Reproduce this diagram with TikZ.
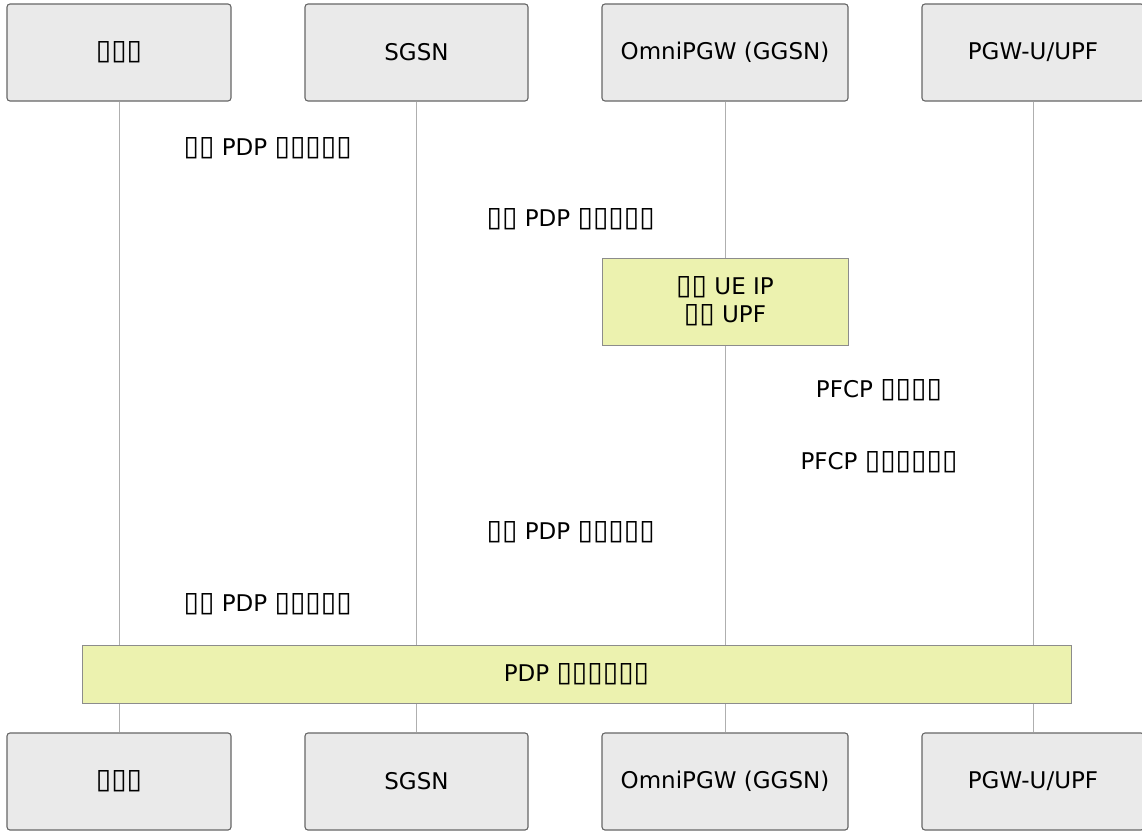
\documentclass[tikz,border=0pt]{standalone}
\usepackage{fontspec}
\setmainfont{DejaVu Sans}
\newfontfamily\tofufont[Scale=1.22]{DejaVu Sans}
\usepackage{xcolor}
\usepackage{tikz}
\usetikzlibrary{calc}

\definecolor{actorfill}{RGB}{234,234,234}
\definecolor{actorline}{RGB}{102,102,102}
\definecolor{notefill}{RGB}{236,242,175}
\definecolor{noteline}{RGB}{140,140,140}
\definecolor{lifeline}{RGB}{175,175,175}

\begin{document}
\begin{tikzpicture}[x=1pt, y=-1pt,
    font=\fontsize{23}{28}\selectfont,
    actor/.style={rectangle, draw=actorline, fill=actorfill, rounded corners=3pt, line width=1.1pt, minimum height=97pt, text centered},
    note/.style={rectangle, draw=noteline, fill=notefill, line width=1pt, align=center},
    msg/.style={text=black},
    life/.style={draw=lifeline, line width=1pt}]
    \useasboundingbox (0,0) rectangle (1142,830);

    \node [actor, minimum width=224pt] (ms) at (119,52.5) {{\tofufont ▯▯▯}};
    \node [actor, minimum width=223pt] (sgsn) at (416.5,52.5) {SGSN};
    \node [actor, minimum width=246pt] (pgw) at (725,52.5) {OmniPGW (GGSN)};
    \node [actor, minimum width=222pt] (upf) at (1033,52.5) {PGW-U/UPF};

    \node [actor, minimum width=224pt] (msb) at (119,781.5) {{\tofufont ▯▯▯}};
    \node [actor, minimum width=223pt] (sgsnb) at (416.5,781.5) {SGSN};
    \node [actor, minimum width=246pt] (pgwb) at (725,781.5) {OmniPGW (GGSN)};
    \node [actor, minimum width=222pt] (upfb) at (1033,781.5) {PGW-U/UPF};

    \path [life] (ms) -- (msb);
    \path [life] (sgsn) -- (sgsnb);
    \path [life] (pgw) -- (pgwb);
    \path [life] (upf) -- (upfb);

    \node [msg] (m1) at ($(ms)!0.5!(sgsn) + (0,95.5)$) {{\tofufont ▯▯} PDP {\tofufont ▯▯▯▯▯}};
    \node [msg] (m2) at ($(sgsn)!0.5!(pgw) + (0,166.5)$) {{\tofufont ▯▯} PDP {\tofufont ▯▯▯▯▯}};
    \node [note, minimum width=246pt, minimum height=87pt] (alloc) at (725,301.5) {{\tofufont ▯▯} UE IP\\{\tofufont ▯▯} UPF};
    \node [msg] (m3) at ($(pgw)!0.5!(upf) + (0,337.5)$) {PFCP {\tofufont ▯▯▯▯}};
    \node [msg] (m4) at ($(pgw)!0.5!(upf) + (0,409.5)$) {PFCP {\tofufont ▯▯▯▯▯▯}};
    \node [msg] (m5) at ($(sgsn)!0.5!(pgw) + (0,479.5)$) {{\tofufont ▯▯} PDP {\tofufont ▯▯▯▯▯}};
    \node [msg] (m6) at ($(ms)!0.5!(sgsn) + (0,551.5)$) {{\tofufont ▯▯} PDP {\tofufont ▯▯▯▯▯}};
    \node [note, minimum width=989pt, minimum height=58pt] (done) at (576.5,674) {PDP {\tofufont ▯▯▯▯▯▯}};
\end{tikzpicture}
\end{document}
